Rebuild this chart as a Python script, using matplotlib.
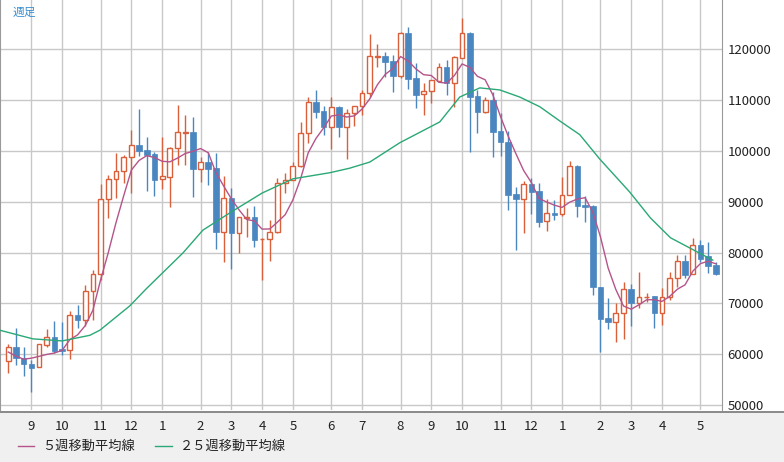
import matplotlib
matplotlib.use("Agg")
import matplotlib.pyplot as plt
import numpy as np
from matplotlib.lines import Line2D

plt.rcParams['font.family'] = ['Noto Sans CJK JP', 'DejaVu Sans']

opens = [58.6,61.4,59.2,58.0,57.4,61.8,63.3,61.0,60.8,67.7,66.7,72.4,75.8,90.5,94.5,96.1,98.8,101.2,100.2,99.4,
         94.5,94.9,100.6,103.5,103.7,96.5,97.8,96.6,84.0,90.7,83.8,86.8,87.0,82.6,82.7,84.0,93.7,94.3,97.0,103.5,
         109.7,107.9,104.7,108.7,104.7,107.5,108.9,111.4,118.5,118.7,117.7,114.8,123.2,114.4,111.2,111.8,113.8,116.5,113.4,118.3,
         123.2,110.8,107.7,110.0,103.9,101.8,91.5,90.5,93.5,92.1,86.2,87.8,87.6,91.3,97.0,89.4,89.2,73.2,67.1,66.3,
         68.1,72.8,70.1,71.2,71.4,68.1,71.2,75.0,78.3,75.8,81.5,79.3,77.5]
highs = [62.0,65.1,61.4,58.8,62.0,64.9,66.5,66.3,68.5,69.7,73.6,76.6,93.5,95.3,99.6,99.2,104.1,108.3,102.8,99.8,
         102.8,100.8,109.1,107.1,106.7,98.8,99.8,99.6,95.1,92.7,87.0,88.8,89.2,82.9,86.4,94.7,95.7,97.8,105.7,110.6,
         112.0,108.9,110.6,108.9,108.3,108.9,112.0,123.0,121.1,119.5,118.9,123.4,124.4,117.3,113.4,114.0,117.3,117.9,118.7,126.2,
         123.4,112.0,110.6,111.6,107.5,103.9,92.9,94.1,94.7,93.7,90.5,90.3,94.9,98.0,97.2,91.1,89.4,73.2,71.0,70.1,
         74.2,73.8,76.2,72.0,71.4,73.0,76.2,79.5,79.5,82.9,82.5,82.1,78.1]
lows = [56.3,57.8,55.7,52.5,57.4,61.4,60.2,59.8,59.0,65.1,65.5,66.7,74.6,86.8,90.7,93.7,91.7,99.0,92.1,91.1,
        92.5,89.0,97.2,97.2,90.9,93.9,93.3,80.7,78.1,76.8,79.9,83.1,81.1,74.6,78.3,83.8,91.7,94.3,96.8,101.6,
        106.5,103.2,100.4,102.8,98.4,104.9,107.1,110.6,116.5,114.6,111.6,114.4,112.2,108.5,107.1,109.5,113.6,111.0,108.7,118.3,
        99.8,103.5,107.5,98.8,99.0,88.4,80.5,83.8,87.6,85.0,84.2,86.4,87.2,91.3,87.0,86.0,71.6,60.4,64.9,62.4,
        63.0,65.5,69.1,70.3,65.1,65.7,70.6,73.2,75.0,75.8,78.1,76.0,75.6]
closes = [61.4,59.2,58.0,57.2,62.0,63.3,60.6,60.6,67.7,66.7,72.4,75.8,90.5,94.5,96.1,98.8,101.2,100.0,99.2,94.3,
          95.1,100.6,103.7,103.7,96.5,97.8,96.5,84.0,90.7,83.8,87.0,87.0,82.5,82.7,84.0,93.7,94.3,97.0,103.5,109.7,
          107.7,104.7,108.7,104.7,107.5,108.9,111.4,118.7,118.7,117.5,114.8,123.2,114.2,111.0,111.8,114.0,116.5,113.4,118.5,123.2,
          110.6,107.7,110.0,103.7,101.8,91.3,90.5,93.5,91.9,86.0,87.8,87.4,91.3,97.0,89.2,89.0,73.2,66.9,66.3,68.1,
          72.8,70.1,71.2,71.3,68.1,71.2,75.0,78.3,75.6,81.5,78.7,77.3,75.8]

# 5-week MA values for the first weeks (prior data not shown)
ma5_head = [60.4, 59.6, 59.0, 59.2]
# 25-week MA (week position, value in thousand)
ma25_pos = [-1.1,3.2,7.0,10.6,11.9,15.8,17.9,22.7,25.3,28.8,33.0,37.0,41.8,44.4,47.0,50.9,56.1,58.7,61.3,63.9,66.5,69.1,71.7,74.3,76.9,80.8,83.5,86.1,88.6,91.6]
ma25_val = [64.7,63.0,62.6,63.7,64.7,69.5,72.8,79.9,84.4,87.8,91.7,94.5,95.7,96.6,97.8,101.6,105.7,110.6,112.4,112.0,110.6,108.7,105.9,103.2,98.4,91.9,86.8,82.9,80.9,78.5]

month_pos = [3,7,12,16,20,25,29,33,37,42,46,51,55,59,64,68,72,77,81,85,90]
month_lab = ['9','10','11','12','1','2','3','4','5','6','7','8','9','10','11','12','1','2','3','4','5']
yticks = [50,60,70,80,90,100,110,120]

RED = '#d9603b'
BLUE = '#4a86bf'
fig = plt.figure(figsize=(7.84, 4.62), dpi=100)
fig.patch.set_facecolor('white')
# grey bottom band
fig.patches.append(plt.Rectangle((0, 0), 1, 50/462, transform=fig.transFigure,
                                 facecolor='#f0f0f0', edgecolor='none', zorder=-5))
fig.add_artist(Line2D([0, 1], [50/462, 50/462], color='#777777', lw=1.2, zorder=-4))

ax = fig.add_axes([0, 52/462, 722/784, 410/462])
ax.set_zorder(2)
ax.set_facecolor('white')
o = np.array(opens); c = np.array(closes); h = np.array(highs); l = np.array(lows)
x = np.arange(len(o))
up = c >= o
ax.vlines(x[up], l[up], h[up], color=RED, lw=1, zorder=2)
ax.vlines(x[~up], l[~up], h[~up], color=BLUE, lw=1, zorder=2)
hgt = np.maximum(np.abs(c - o), 0.12)
ax.bar(x[up], hgt[up], bottom=np.minimum(o, c)[up], width=0.62, facecolor='white', edgecolor=RED, lw=1, zorder=3)
ax.bar(x[~up], hgt[~up], bottom=np.minimum(o, c)[~up], width=0.72, facecolor=BLUE, edgecolor=BLUE, lw=0.5, zorder=3)

ma5 = ma5_head + [np.mean(closes[i-4:i+1]) for i in range(4, len(closes))]
ax.plot(x, ma5, color='#b5548a', lw=1, zorder=4)
ax.plot(ma25_pos, ma25_val, color='#2aa876', lw=1, zorder=4)

ax.set_xlim(-1.08, 92.8)
ax.set_ylim(49.0, 129.7)
ax.set_xticks(month_pos)
ax.set_yticks(yticks)
ax.grid(True, color='#c8c8c8', lw=1)
ax.set_axisbelow(True)
ax.tick_params(length=0)
ax.set_xticklabels(month_lab, fontsize=9.5, color='#222222')
ax.yaxis.tick_right()
ax.set_yticklabels([f'{v*1000:.0f}' for v in yticks], fontsize=9.5, color='#222222')
ax.tick_params(axis='y', pad=4)
ax.tick_params(axis='x', pad=7)
for s in ax.spines.values():
    s.set_color('#999999')
ax.spines['top'].set_visible(False)
ax.spines['bottom'].set_visible(False)
ax.text(0.018, 0.985, '週足', transform=ax.transAxes, fontsize=8.5, color='#3a8fd0', va='top')

fig.add_artist(Line2D([18/784, 34/784], [16/462, 16/462], color='#b5548a', lw=1))
fig.text(42/784, 16/462, '５週移動平均線', fontsize=9.5, color='#222222', va='center')
fig.add_artist(Line2D([155/784, 172/784], [16/462, 16/462], color='#2aa876', lw=1))
fig.text(180/784, 16/462, '２５週移動平均線', fontsize=9.5, color='#222222', va='center')

fig.savefig('out.png', dpi=100)
